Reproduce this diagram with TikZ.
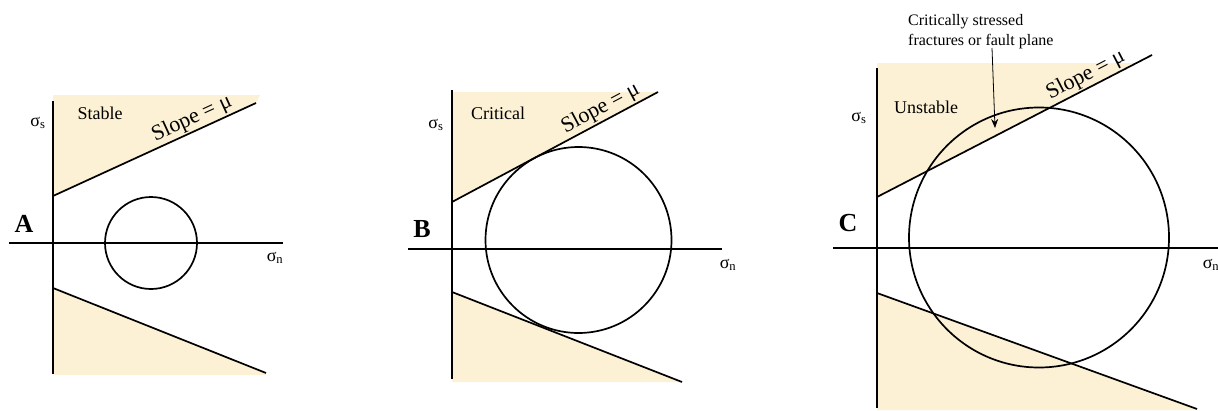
\documentclass[tikz,border=0pt]{standalone}
\usepackage{fontspec}
\setmainfont{Liberation Serif}
\usetikzlibrary{arrows.meta}
\definecolor{shade}{RGB}{252,241,212}
\begin{document}
\begin{tikzpicture}[x=1pt,y=-1pt,
  axis/.style={line width=1.7pt},
  envline/.style={line width=1.7pt},
  region/.style={fill=shade},
  mohr/.style={circle, draw, line width=1.7pt, inner sep=0pt},
  lab/.style={font=\fontsize{18}{20}\selectfont, anchor=base, inner sep=0pt},
  panel/.style={font=\fontsize{26}{28}\selectfont\bfseries, anchor=base, inner sep=0pt},
  sym/.style={font=\fontsize{18}{20}\selectfont, anchor=base, inner sep=0pt},
  slope/.style={font=\fontsize{22}{24}\selectfont, sloped, above, inner sep=1.5pt, pos=#1},
  note/.style={font=\fontsize{16}{20}\selectfont, align=left, anchor=north west, inner sep=0pt}
]
\useasboundingbox (0,0) rectangle (1218,410);

% ---------------- Panel A ----------------
\coordinate (A-top) at (53,101);
\coordinate (A-bot) at (53,374);
\coordinate (A-xl) at (9,243);
\coordinate (A-xr) at (283,243);
\coordinate (A-u0) at (53,196);
\coordinate (A-u1) at (256,103);
\coordinate (A-l0) at (53,288);
\coordinate (A-l1) at (266,373);
\fill[region] (A-u0) -- (A-u1) -- (260,95) -- (53,95) -- cycle;
\fill[region] (A-l0) -- (A-l1) -- (266,375) -- (53,375) -- cycle;
\draw[axis] (A-xl) -- (A-xr);
\draw[axis] (A-top) -- (A-bot);
\draw[envline] (A-u0) -- (A-u1) node[slope=0.71] (A-sl) {Slope = μ};
\draw[envline] (A-l0) -- (A-l1);
\node[mohr, minimum size=92pt] (A-c) at (151,243) {};
\node[lab] (A-t) at (100,119) {Stable};
\node[sym] (A-s) at (38,126) {σ\textsubscript{s}};
\node[sym] (A-n) at (275,261) {σ\textsubscript{n}};
\node[panel] (A-lab) at (24,232) {A};

% ---------------- Panel B ----------------
\coordinate (B-top) at (452,90);
\coordinate (B-bot) at (452,379);
\coordinate (B-xl) at (408,249);
\coordinate (B-xr) at (722,249);
\coordinate (B-u0) at (452,202);
\coordinate (B-u1) at (658,92);
\coordinate (B-l0) at (452,292);
\coordinate (B-l1) at (682,382);
\fill[region] (B-u0) -- (B-u1) -- (452,92) -- cycle;
\fill[region] (B-l0) -- (B-l1) -- (682,382) -- (452,382) -- cycle;
\draw[axis] (B-xl) -- (B-xr);
\draw[axis] (B-top) -- (B-bot);
\draw[envline] (B-u0) -- (B-u1) node[slope=0.75] (B-sl) {Slope = μ};
\draw[envline] (B-l0) -- (B-l1);
\node[mohr, minimum size=186pt] (B-c) at (578.5,240) {};
\node[lab] (B-t) at (498,119) {Critical};
\node[sym] (B-s) at (436,128) {σ\textsubscript{s}};
\node[sym] (B-n) at (728,268) {σ\textsubscript{n}};
\node[panel] (B-lab) at (422,237) {B};

% ---------------- Panel C ----------------
\coordinate (C-top) at (877,68);
\coordinate (C-bot) at (877,408);
\coordinate (C-xl) at (833,248);
\coordinate (C-xr) at (1220,248);
\coordinate (C-u0) at (877,197);
\coordinate (C-u1) at (1152,55);
\coordinate (C-l0) at (877,293);
\coordinate (C-l1) at (1197,409);
\fill[region] (C-u0) -- (1137,63) -- (877,63) -- cycle;
\fill[region] (C-l0) -- (C-l1) -- (1197,410) -- (877,410) -- cycle;
\draw[axis] (C-xl) -- (C-xr);
\draw[axis] (C-top) -- (C-bot);
\draw[envline] (C-u0) -- (C-u1) node[slope=0.78] (C-sl) {Slope = μ};
\draw[envline] (C-l0) -- (C-l1);
\node[mohr, minimum size=260pt] (C-c) at (1039,237.5) {};
\node[lab] (C-t) at (926,113) {Unstable};
\node[sym] (C-s) at (859,121) {σ\textsubscript{s}};
\node[sym] (C-n) at (1211,268) {σ\textsubscript{n}};
\node[panel] (C-lab) at (848,231) {C};
\node[note] (C-note) at (908,14) {Critically stressed\\fractures or fault plane};
\coordinate (C-a0) at (992,48);
\coordinate (C-a1) at (995,128);
\draw[line width=0.8pt, -{Stealth[length=9pt,width=7pt]}] (C-a0) -- (C-a1);
\end{tikzpicture}
\end{document}
